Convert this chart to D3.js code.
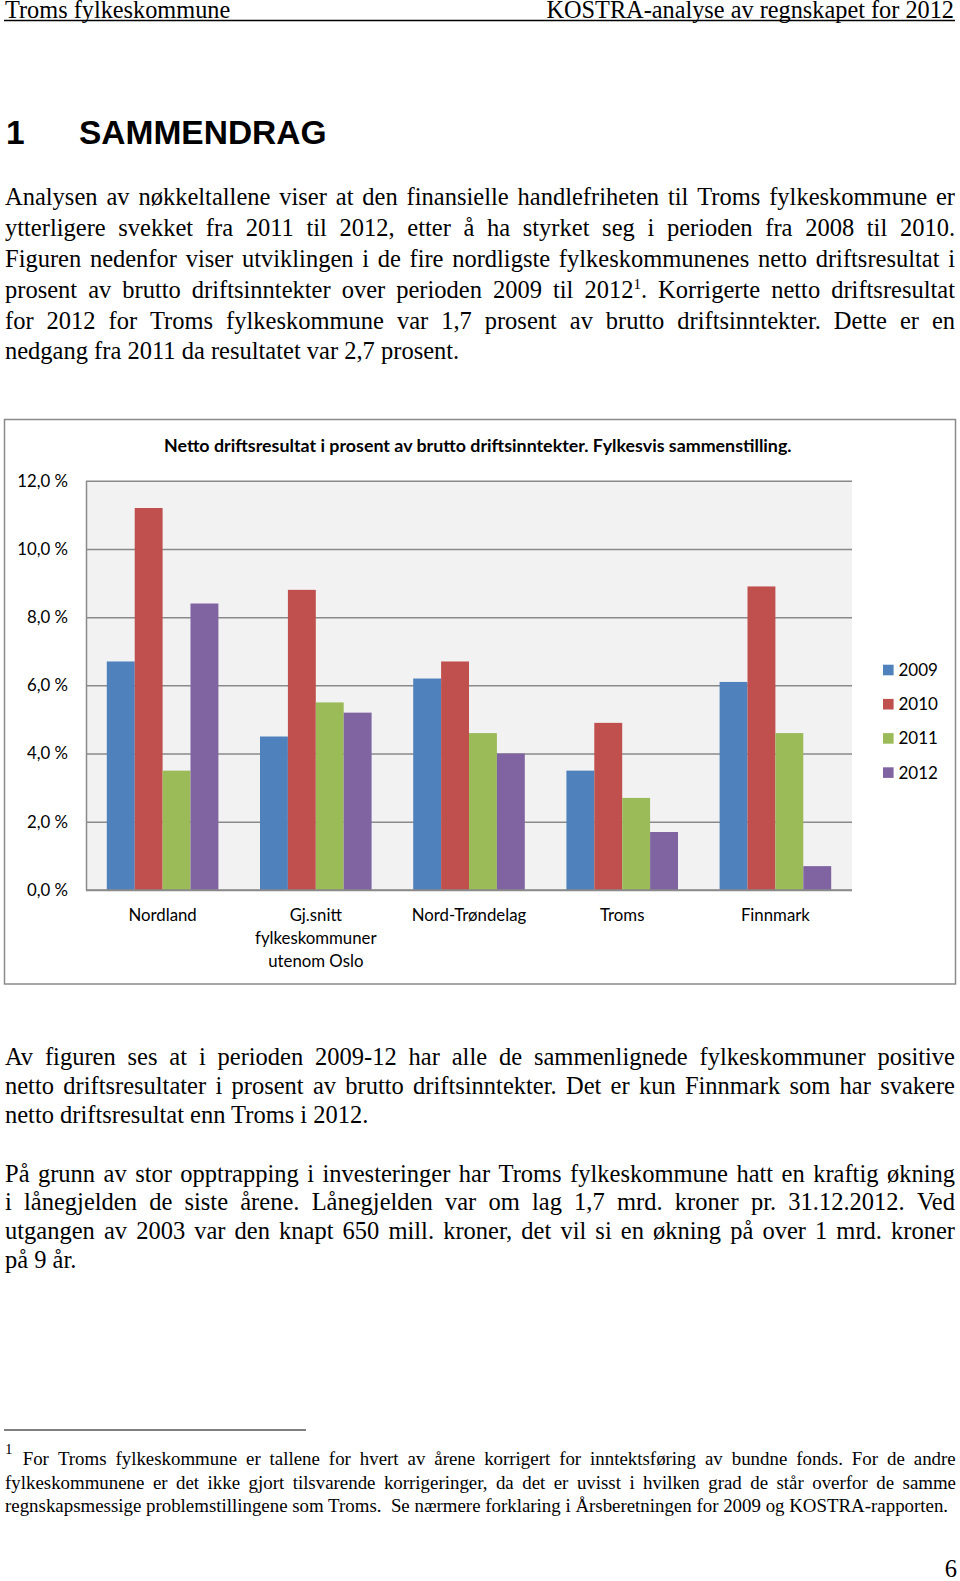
<!DOCTYPE html>
<html><head><meta charset="utf-8">
<script src="https://cdn.jsdelivr.net/npm/d3@7"></script>
<style>
html,body{margin:0;padding:0;background:#fff;}
svg{display:block;}
</style></head><body>
<svg id="page" width="960" height="1581"></svg>
<script>
// ---------------- DATA ----------------
const categories = ["Nordland", "Gj.snitt\nfylkeskommuner\nutenom Oslo", "Nord-Trøndelag", "Troms", "Finnmark"];
const years = ["2009", "2010", "2011", "2012"];
const values2009 = [6.7, 4.5, 6.2, 3.5, 6.1];
const values2010 = [11.2, 8.8, 6.7, 4.9, 8.9];
const values2011 = [3.5, 5.5, 4.6, 2.7, 4.6];
const values2012 = [8.4, 5.2, 4.0, 1.7, 0.7];
const yTicks = [0, 2, 4, 6, 8, 10, 12];
const chartTitle = "Netto driftsresultat i prosent av brutto driftsinntekter. Fylkesvis sammenstilling.";

const headerLeft = "Troms fylkeskommune";
const headerRight = "KOSTRA-analyse av regnskapet for 2012";
const para1 = [
  "Analysen av nøkkeltallene viser at den finansielle handlefriheten til Troms fylkeskommune er",
  "ytterligere svekket fra 2011 til 2012, etter å ha styrket seg i perioden fra 2008 til 2010.",
  "Figuren nedenfor viser utviklingen i de fire nordligste fylkeskommunenes netto driftsresultat i",
  "prosent av brutto driftsinntekter over perioden 2009 til 2012^1. Korrigerte netto driftsresultat",
  "for 2012 for Troms fylkeskommune var 1,7 prosent av brutto driftsinntekter. Dette er en",
  "nedgang fra 2011 da resultatet var 2,7 prosent."
];
const para2 = [
  "Av figuren ses at i perioden 2009-12 har alle de sammenlignede fylkeskommuner positive",
  "netto driftsresultater i prosent av brutto driftsinntekter. Det er kun Finnmark som har svakere",
  "netto driftsresultat enn Troms i 2012."
];
const para3 = [
  "På grunn av stor opptrapping i investeringer har Troms fylkeskommune hatt en kraftig økning",
  "i lånegjelden de siste årene. Lånegjelden var om lag 1,7 mrd. kroner pr. 31.12.2012. Ved",
  "utgangen av 2003 var den knapt 650 mill. kroner, det vil si en økning på over 1 mrd. kroner",
  "på 9 år."
];
const footnote = [
  "For Troms fylkeskommune er tallene for hvert av årene korrigert for inntektsføring av bundne fonds. For de andre",
  "fylkeskommunene er det ikke gjort tilsvarende korrigeringer, da det er uvisst i hvilken grad de står overfor de samme",
  "regnskapsmessige problemstillingene som Troms.  Se nærmere forklaring i Årsberetningen for 2009 og KOSTRA-rapporten."
];

// ---------------- STYLE ----------------
const seriesValues = [values2009, values2010, values2011, values2012];
const colors = ["#4f81bd", "#c0504d", "#9bbb59", "#8064a2"];
const SERIF = "'Liberation Serif','Times New Roman',serif";
const SANS = "'Liberation Sans',Arial,sans-serif";
const CFONT = "Lato,Carlito,Calibri,sans-serif";

const svg = d3.select('#page');
svg.append('rect').attr('width', 960).attr('height', 1581).attr('fill', '#fff');

const measurer = svg.append('text').attr('visibility', 'hidden').style('white-space', 'pre');

function buildWord(sel, word, y) {
  const parts = word.split('^');
  if (parts.length === 1) { sel.append('tspan').text(word); return; }
  sel.append('tspan').text(parts[0]);
  const sup = parts[1][0], after = parts[1].slice(1);
  sel.append('tspan').attr('font-size', 15).attr('y', y - 9).text(sup);
  if (after) sel.append('tspan').attr('y', y).text(after);
}
function measureWord(word, size, family) {
  measurer.selectAll('*').remove();
  measurer.text(null).attr('font-family', family).attr('font-size', size).attr('y', 0);
  buildWord(measurer, word, 0);
  return measurer.node().getComputedTextLength();
}
function textLine(str, x, y, width, justify, size) {
  const t = svg.append('text').attr('font-family', SERIF).attr('font-size', size).attr('fill', '#000')
    .attr('y', y).style('white-space', 'pre');
  if (!justify) { t.attr('x', x).text(str); return t; }
  const words = str.split(' ');
  const ws = words.map(w => measureWord(w, size, SERIF));
  const gap = (width - d3.sum(ws)) / (words.length - 1);
  let cx = x;
  words.forEach((w, i) => {
    const ts = t.append('tspan').attr('x', cx).attr('y', y);
    buildWord(ts, w, y);
    cx += ws[i] + gap;
  });
  return t;
}
function paragraph(lines, x, width, baselines, size) {
  lines.forEach((l, i) => textLine(l, x, baselines[i], width, i < lines.length - 1, size));
}

// ---------------- HEADER ----------------
svg.append('text').attr('x', 5).attr('y', 17.5).attr('font-family', SERIF).attr('font-size', 24.3).text(headerLeft);
svg.append('text').attr('x', 954).attr('y', 17.5).attr('text-anchor', 'end').attr('font-family', SERIF).attr('font-size', 24.3).text(headerRight);
svg.append('line').attr('x1', 4).attr('x2', 955).attr('y1', 20.5).attr('y2', 20.5).attr('stroke', '#000').attr('stroke-width', 1.3);

svg.append('text').attr('x', 6).attr('y', 144).attr('font-family', SANS).attr('font-weight', 'bold').attr('font-size', 33.5).text('1');
svg.append('text').attr('x', 79).attr('y', 144).attr('font-family', SANS).attr('font-weight', 'bold').attr('font-size', 33.5).text('SAMMENDRAG');

const BODY = 24.5;
paragraph(para1, 5, 950, [205, 236, 267, 298, 329, 359], BODY);
paragraph(para2, 5, 950, [1065, 1094, 1123], BODY);
paragraph(para3, 5, 950, [1182, 1210, 1239, 1268], BODY);

// ---------------- FOOTNOTE ----------------
svg.append('line').attr('x1', 4).attr('x2', 306).attr('y1', 1430).attr('y2', 1430).attr('stroke', '#000').attr('stroke-width', 1.2);
let fs = 18;
const natural = measureWord(footnote[2], fs, SERIF);
fs = fs * 944 / natural;
svg.append('text').attr('x', 5).attr('y', 1454).attr('font-family', SERIF).attr('font-size', 15).text('1');
textLine(footnote[0], 22.7, 1465, 933, true, fs);
textLine(footnote[1], 5, 1489, 951, true, fs);
textLine(footnote[2], 5, 1512, 944, false, fs);

svg.append('text').attr('x', 957).attr('y', 1577).attr('text-anchor', 'end').attr('font-family', SERIF).attr('font-size', 24.5).text('6');

// ---------------- CHART ----------------
const chart = svg.append('g');
chart.append('rect').attr('x', 4.5).attr('y', 419.5).attr('width', 951).attr('height', 564.5)
  .attr('fill', '#fff').attr('stroke', '#8a8a8a').attr('stroke-width', 1.5);

const plot = { left: 86, right: 852, top: 480.7, bottom: 890 };
const x0 = d3.scaleBand().domain(categories).range([plot.left, plot.right]).paddingInner(0.2716).paddingOuter(0.1358);
const x1 = d3.scaleBand().domain(years).range([0, x0.bandwidth()]);
const y = d3.scaleLinear().domain([0, 12]).range([plot.bottom, plot.top]);

chart.append('rect').attr('x', plot.left).attr('y', plot.top).attr('width', plot.right - plot.left)
  .attr('height', plot.bottom - plot.top).attr('fill', '#f2f2f2');

const yAxis = chart.append('g').attr('transform', `translate(${plot.left},0)`)
  .call(d3.axisLeft(y).tickValues(yTicks).tickSize(-(plot.right - plot.left)).tickSizeOuter(0).tickPadding(18)
    .tickFormat(d => d3.format('.1f')(d).replace('.', ',') + ' %'));
yAxis.select('.domain').attr('stroke', '#8a8a8a').attr('stroke-width', 1.5);
yAxis.selectAll('.tick line').attr('stroke', '#8a8a8a').attr('stroke-width', 1.5);
yAxis.selectAll('.tick text').attr('font-family', CFONT).attr('font-size', 16.8).attr('fill', '#000');

const groups = chart.selectAll('g.cat').data(categories).join('g').attr('class', 'cat')
  .attr('transform', d => `translate(${x0(d)},0)`);
groups.selectAll('rect').data((d, ci) => years.map((yr, si) => ({ yr, si, v: seriesValues[si][ci] })))
  .join('rect')
  .attr('x', d => x1(d.yr)).attr('width', x1.bandwidth())
  .attr('y', d => y(d.v)).attr('height', d => y(0) - y(d.v))
  .attr('fill', d => colors[d.si]);

chart.append('line').attr('x1', plot.left).attr('x2', plot.right).attr('y1', y(0)).attr('y2', y(0))
  .attr('stroke', '#8a8a8a').attr('stroke-width', 1.5);

// category labels
categories.forEach(c => {
  const t = chart.append('text').attr('font-family', CFONT).attr('font-size', 16.8).attr('fill', '#000')
    .attr('text-anchor', 'middle');
  c.split('\n').forEach((ln, i) => {
    t.append('tspan').attr('x', x0(c) + x0.bandwidth() / 2).attr('y', 915 + i * 23.3).attr('dy', '0.35em').text(ln);
  });
});

// title (fitted to width)
const title = chart.append('text').attr('x', 164).attr('y', 451.5).attr('font-family', CFONT)
  .attr('font-weight', 'bold').attr('font-size', 16).attr('fill', '#000').text(chartTitle);
const tw = title.node().getComputedTextLength();
title.attr('font-size', 16 * 628 / tw);

// legend
const legend = chart.append('g').attr('transform', 'translate(883,670)');
years.forEach((yr, i) => {
  const row = legend.append('g').attr('transform', `translate(0,${i * 34.2})`);
  row.append('rect').attr('x', 0).attr('y', -5.3).attr('width', 10.6).attr('height', 10.6).attr('fill', colors[i]);
  row.append('text').attr('x', 15.5).attr('y', 0).attr('dy', '0.35em').attr('font-family', CFONT)
    .attr('font-size', 17).attr('fill', '#000').text(yr);
});
measurer.remove();
</script>
</body></html>
